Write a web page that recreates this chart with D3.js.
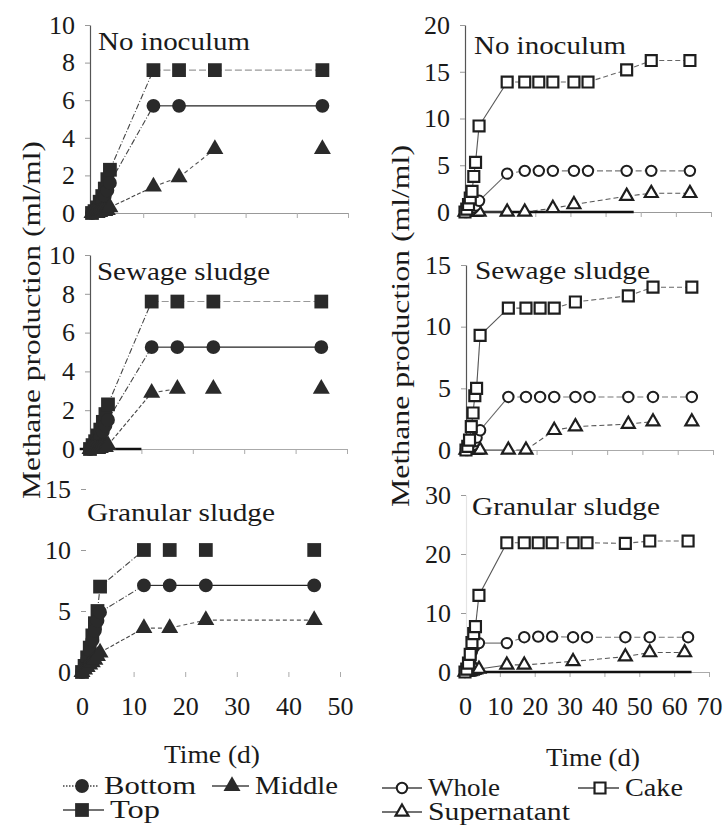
<!DOCTYPE html>
<html>
<head>
<meta charset="utf-8">
<script src="https://cdn.jsdelivr.net/npm/d3@7"></script>
<style>
  body { margin: 0; background: #fff; }
  svg { display: block; }
  text { font-family: "Liberation Serif", "Times New Roman", serif; fill: #1a1a1a; }
</style>
</head>
<body>
<div id="chart"></div>
<script>
// ---- data (days, ml/ml) ----
const leftEarlyDays = [0, 0.5, 1, 1.5, 2, 2.5, 3, 3.5];
const leftLateDays = [12, 17, 24, 45];
const rightEarlyDays = [0, 0.5, 1, 1.5, 2, 2.5, 3, 4];
const rightLateDays = [12, 17, 21, 25, 31, 35, 46, 53, 64];

const leftXTicks = [0, 10, 20, 30, 40, 50];
const rightXTicks = [0, 10, 20, 30, 40, 50, 60, 70];

// left column: fractions Top / Bottom / Middle
const noInocTop = [0, 0.1, 0.3, 0.6, 0.9, 1.3, 1.8, 2.3, 7.6, 7.6, 7.6, 7.6];
const noInocBottomDays = [...leftEarlyDays, 12, 17, 45];
const noInocBottom = [0, 0.1, 0.2, 0.4, 0.6, 0.9, 1.2, 1.6, 5.7, 5.7, 5.7];
const noInocMiddle = [0, 0, 0, 0.05, 0.1, 0.1, 0.15, 0.3, 1.4, 1.9, 3.4, 3.4];

const sewageTop = [0, 0.2, 0.4, 0.7, 1.0, 1.4, 1.8, 2.3, 7.6, 7.6, 7.6, 7.6];
const sewageBottom = [0, 0.1, 0.2, 0.4, 0.6, 0.9, 1.2, 1.5, 5.25, 5.25, 5.25, 5.25];
const sewageMiddle = [0, 0, 0, 0, 0.05, 0.1, 0.1, 0.2, 2.9, 3.1, 3.1, 3.1];

const granTop = [0, 0.5, 1.2, 2.0, 3.0, 4.0, 5.0, 7.0, 10, 10, 10, 10];
const granBottom = [0, 0.4, 1.0, 1.8, 2.6, 3.4, 4.2, 4.9, 7.1, 7.1, 7.1, 7.1];
const granMiddle = [0, 0.2, 0.4, 0.6, 0.8, 1.0, 1.3, 1.6, 3.6, 3.6, 4.25, 4.25];

// right column: Whole / Cake / Supernatant
const noInocCake = [0, 0.3, 0.8, 1.5, 2.2, 3.8, 5.3, 9.2, 13.9, 13.9, 13.9, 13.9, 13.9, 13.9, 15.2, 16.2, 16.2];
const noInocWhole = [0, 0, 0.1, 0.2, 0.3, 0.5, 0.7, 1.2, 4.1, 4.4, 4.4, 4.4, 4.4, 4.4, 4.4, 4.4, 4.4];
const noInocSuperDays = [...rightEarlyDays, 12, 17, 25, 31, 46, 53, 64];
const noInocSuper = [0, 0, 0, 0, 0, 0, 0, 0, 0, 0, 0.4, 0.8, 1.7, 2.0, 2.0];

const sewageCakeDays = [...rightEarlyDays, 12, 17, 21, 25, 31, 46, 53, 64];
const sewageCake = [0, 0.3, 0.8, 1.9, 3.0, 4.4, 5.0, 9.3, 11.5, 11.5, 11.5, 11.5, 12.0, 12.5, 13.2, 13.2];
const sewageWhole = [0, 0, 0.1, 0.2, 0.4, 0.7, 1.0, 1.6, 4.3, 4.3, 4.3, 4.3, 4.3, 4.3, 4.3, 4.3, 4.3];
const sewageSuperDays = [...rightEarlyDays, 12, 17, 25, 31, 46, 53, 64];
const sewageSuper = [0, 0, 0, 0, 0, 0, 0, 0, 0, 0, 1.6, 1.9, 2.1, 2.3, 2.3];

const granCake = [0, 0.5, 1.5, 3, 5, 6.5, 7.7, 13.0, 21.9, 21.9, 21.9, 21.9, 21.9, 21.9, 21.8, 22.2, 22.2];
const granWhole = [0, 0.5, 1.5, 2.5, 3.5, 4.2, 4.6, 4.9, 4.9, 5.9, 6.0, 6.0, 5.9, 5.9, 5.9, 5.9, 5.9];
const granSuperDays = [...rightEarlyDays, 12, 17, 31, 46, 53, 63];
const granSuper = [0, 0, 0, 0.1, 0.2, 0.3, 0.4, 0.5, 1.2, 1.2, 1.8, 2.6, 3.3, 3.3];

const leftDays = [...leftEarlyDays, ...leftLateDays];
const rightDays = [...rightEarlyDays, ...rightLateDays];

const legendLeft = ['Bottom', 'Middle', 'Top'];
const legendRight = ['Whole', 'Cake', 'Supernatant'];

// ---- styles ----
const FS = 26;
const markerStyle = {
  top:    { shape: d3.symbolSquare,   size: 190, fill: '#2a2a2a', stroke: 'none', sw: 0 },
  bottom: { shape: d3.symbolCircle,   size: 150, fill: '#2a2a2a', stroke: 'none', sw: 0 },
  middle: { shape: d3.symbolTriangle, size: 125, fill: '#2a2a2a', stroke: 'none', sw: 0 },
  cake:   { shape: d3.symbolSquare,   size: 120, fill: '#fff', stroke: '#1e1e1e', sw: 2.2 },
  whole:  { shape: d3.symbolCircle,   size: 85,  fill: '#fff', stroke: '#1e1e1e', sw: 2 },
  super:  { shape: d3.symbolTriangle, size: 72,  fill: '#fff', stroke: '#1e1e1e', sw: 2.2 }
};
const lineStyle = {
  top:    { early: ['#444', '6,2,1,2'], late: ['#999', '7,3'] },
  bottom: { early: ['#444', '6,2,1,2'], late: ['#222', null] },
  middle: { early: ['#444', '4,2'],     late: ['#555', '4,3'] },
  cake:   { early: ['#555', null],      late: ['#666', '5,3'] },
  whole:  { early: ['#666', null],      late: ['#777', '6,3'] },
  super:  { early: ['#555', null],      late: ['#555', '5,3'] }
};

const panels = [
  { title: 'No inoculum', tw: 152, xMax: 50, xTicks: leftXTicks, x0: 92, x1: 348, yTop: 25, yBot: 213, yMax: 10,
    yTicks: [0, 2, 4, 6, 8, 10], axisX: 90, tx: 98, ty: 50, yDom: '#555', xDom: '#999', xLabels: false,
    zero: null, nEarly: 8,
    series: [
      { key: 'top', days: leftDays, values: noInocTop, breaks: [] },
      { key: 'bottom', days: noInocBottomDays, values: noInocBottom, breaks: [] },
      { key: 'middle', days: leftDays, values: noInocMiddle, breaks: [10] }
    ] },
  { title: 'Sewage sludge', tw: 173, xMax: 50, xTicks: leftXTicks, x0: 90, x1: 347, yTop: 255, yBot: 449, yMax: 10,
    yTicks: [0, 2, 4, 6, 8, 10], axisX: 90, tx: 97, ty: 280, yDom: '#555', xDom: '#aaa', xLabels: false,
    zero: [-2, 10], nEarly: 8,
    series: [
      { key: 'top', days: leftDays, values: sewageTop, breaks: [] },
      { key: 'bottom', days: leftDays, values: sewageBottom, breaks: [] },
      { key: 'middle', days: leftDays, values: sewageMiddle, breaks: [9, 10] }
    ] },
  { title: 'Granular sludge', tw: 188, xMax: 50, xTicks: leftXTicks, x0: 82, x1: 340, yTop: 489, yBot: 672, yMax: 15,
    yTicks: [0, 5, 10, 15], axisX: 86, tx: 87, ty: 521, yDom: 'none', xDom: 'none', xLabels: true,
    zero: null, nEarly: 8,
    series: [
      { key: 'top', days: leftDays, values: granTop, breaks: [8, 9, 10] },
      { key: 'bottom', days: leftDays, values: granBottom, breaks: [] },
      { key: 'middle', days: leftDays, values: granMiddle, breaks: [] }
    ] },
  { title: 'No inoculum', tw: 152, xMax: 70, xTicks: rightXTicks, x0: 465, x1: 711, yTop: 25, yBot: 212, yMax: 20,
    yTicks: [0, 5, 10, 15, 20], axisX: 465, tx: 474, ty: 54, yDom: '#555', xDom: '#999', xLabels: false,
    zero: [0, 48], nEarly: 8,
    series: [
      { key: 'super', days: noInocSuperDays, values: noInocSuper, breaks: [8] },
      { key: 'whole', days: rightDays, values: noInocWhole, breaks: [] },
      { key: 'cake', days: rightDays, values: noInocCake, breaks: [] }
    ] },
  { title: 'Sewage sludge', tw: 175, xMax: 70, xTicks: rightXTicks, x0: 466, x1: 713, yTop: 265, yBot: 450, yMax: 15,
    yTicks: [0, 5, 10, 15], axisX: 466, tx: 475, ty: 279, yDom: '#555', xDom: '#aaa', xLabels: false,
    zero: null, nEarly: 8,
    series: [
      { key: 'super', days: sewageSuperDays, values: sewageSuper, breaks: [13] },
      { key: 'whole', days: rightDays, values: sewageWhole, breaks: [] },
      { key: 'cake', days: sewageCakeDays, values: sewageCake, breaks: [] }
    ] },
  { title: 'Granular sludge', tw: 188, xMax: 70, xTicks: rightXTicks, x0: 465, x1: 709, yTop: 495, yBot: 672, yMax: 30,
    yTicks: [0, 10, 20, 30], axisX: 466, tx: 472, ty: 515, yDom: '#e4e4e4', xDom: '#aaa', xLabels: true,
    zero: [-1, 65], nEarly: 8,
    series: [
      { key: 'super', days: granSuperDays, values: granSuper, breaks: [] },
      { key: 'whole', days: rightDays, values: granWhole, breaks: [] },
      { key: 'cake', days: rightDays, values: granCake, breaks: [] }
    ] }
];

const svg = d3.select('#chart').append('svg').attr('width', 724).attr('height', 826);

function drawMarker(g, key, cx, cy) {
  const m = markerStyle[key];
  g.append('path')
    .attr('d', d3.symbol().type(m.shape).size(m.size)())
    .attr('transform', `translate(${cx},${cy})`)
    .attr('fill', m.fill)
    .attr('stroke', m.stroke)
    .attr('stroke-width', m.sw);
}

// stretched text (the scanned face is wider than Times)
function label(parent, x, y, str, width, anchor) {
  return parent.append('text')
    .attr('x', x).attr('y', y)
    .attr('font-size', FS)
    .attr('text-anchor', anchor || 'start')
    .attr('textLength', width)
    .attr('lengthAdjust', 'spacingAndGlyphs')
    .text(str);
}

function drawPanel(p) {
  const x = d3.scaleLinear().domain([0, p.xMax]).range([p.x0, p.x1]);
  const y = d3.scaleLinear().domain([0, p.yMax]).range([p.yBot, p.yTop]);
  const g = svg.append('g');

  // axes
  const ya = g.append('g')
    .attr('transform', `translate(${p.axisX},0)`)
    .call(d3.axisLeft(y).tickValues(p.yTicks).tickSize(5).tickSizeOuter(0).tickPadding(10));
  ya.attr('font-family', null).attr('font-size', FS);
  ya.select('.domain').attr('stroke', p.yDom).attr('stroke-width', 1.2);
  ya.selectAll('.tick line').attr('stroke', '#999');
  ya.selectAll('.tick text').attr('fill', '#1a1a1a');

  const xa = g.append('g')
    .attr('transform', `translate(0,${p.yBot})`)
    .call(d3.axisBottom(x).tickValues(p.xTicks).tickSize(5).tickSizeOuter(0).tickPadding(20)
      .tickFormat(p.xLabels ? d3.format('d') : ''));
  xa.attr('font-family', null).attr('font-size', FS);
  xa.select('.domain').attr('stroke', p.xDom).attr('stroke-width', 1.2);
  xa.selectAll('.tick line').attr('stroke', '#aaa');
  xa.selectAll('.tick text').attr('fill', '#1a1a1a');

  if (p.zero) {
    g.append('path')
      .datum(p.zero)
      .attr('d', d3.line().x(d => x(d)).y(() => y(0)))
      .attr('stroke', '#111').attr('stroke-width', 2.5).attr('fill', 'none');
  }

  // connecting segments
  p.series.forEach(s => {
    const pts = s.days.map((d, i) => [x(d), y(s.values[i])]);
    for (let i = 0; i < pts.length - 1; i++) {
      if (s.breaks.includes(i)) continue;
      const st = i < p.nEarly ? lineStyle[s.key].early : lineStyle[s.key].late;
      g.append('path')
        .attr('d', d3.line()([pts[i], pts[i + 1]]))
        .attr('stroke', st[0]).attr('stroke-width', 1.1)
        .attr('stroke-dasharray', st[1]).attr('fill', 'none');
    }
  });

  // markers
  p.series.forEach(s => {
    s.days.forEach((d, i) => drawMarker(g, s.key, x(d), y(s.values[i])));
  });

  label(g, p.tx, p.ty, p.title, p.tw);
}

panels.forEach(drawPanel);

// axis titles
label(svg, 0, 0, 'Methane production (ml/ml)', 358, 'middle')
  .attr('transform', 'translate(40,320) rotate(-90)');
label(svg, 0, 0, 'Methane production (ml/ml)', 362, 'middle')
  .attr('transform', 'translate(409,326) rotate(-90)');
label(svg, 212, 763, 'Time (d)', 96, 'middle');
label(svg, 593, 766, 'Time (d)', 94, 'middle');

// legends
const legendPos = [
  { key: 'bottom', label: legendLeft[0], w: 92, mx: 82, my: 786, l0: 63, l1: 98, dash: '1.5,1.5' },
  { key: 'middle', label: legendLeft[1], w: 83, mx: 232, my: 786, l0: 212, l1: 249, dash: null },
  { key: 'top',    label: legendLeft[2], w: 50, mx: 82, my: 810, l0: 63, l1: 104, dash: null },
  { key: 'whole',  label: legendRight[0], w: 72, mx: 402, my: 788, l0: 382, l1: 422, dash: null },
  { key: 'cake',   label: legendRight[1], w: 58, mx: 600, my: 788, l0: 578, l1: 619, dash: null },
  { key: 'super',  label: legendRight[2], w: 142, mx: 402, my: 812, l0: 382, l1: 422, dash: null }
];
const lg = svg.append('g');
legendPos.forEach(d => {
  lg.append('line')
    .attr('x1', d.l0).attr('x2', d.l1).attr('y1', d.my).attr('y2', d.my)
    .attr('stroke', '#444').attr('stroke-width', 1.3).attr('stroke-dasharray', d.dash);
  drawMarker(lg, d.key, d.mx, d.my);
  label(lg, d.l1 + 6, d.my + 8, d.label, d.w);
});
</script>
</body>
</html>
